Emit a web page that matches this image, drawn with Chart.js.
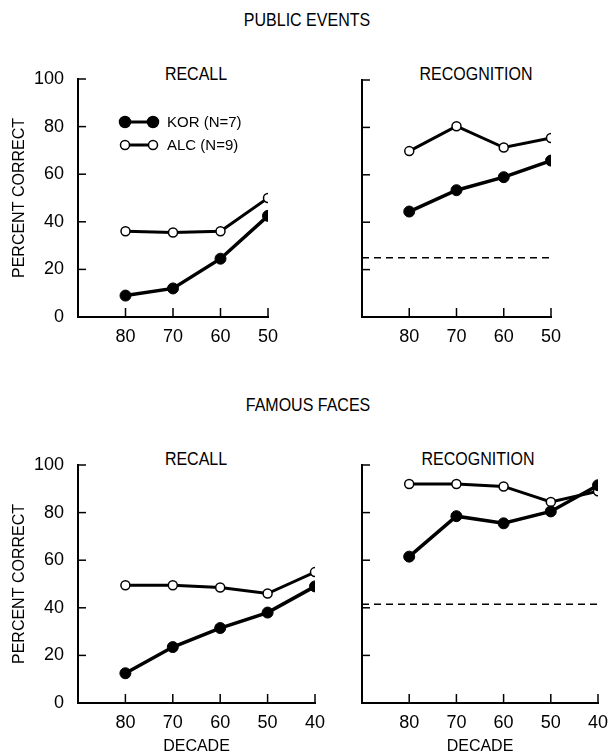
<!DOCTYPE html>
<html>
<head>
<meta charset="utf-8">
<script src="https://cdn.jsdelivr.net/npm/chart.js@4.4.1/dist/chart.umd.min.js"></script>
<style>
  html, body { margin: 0; padding: 0; background: #fff; overflow: hidden; }
  body { width: 613px; height: 755px; position: relative; font-family: "Liberation Sans", Arial, sans-serif; color: #000; }
  .box { position: absolute; }
  .lbl { position: absolute; font-size: 16px; line-height: 16px; white-space: nowrap; transform: translateX(-50%) scaleY(1.12); }
</style>
</head>
<body>
<div class="lbl" style="left:307px; top:12px;">PUBLIC EVENTS</div>
<div class="lbl" style="left:196px; top:66px;">RECALL</div>
<div class="lbl" style="left:476px; top:66px;">RECOGNITION</div>
<div class="lbl" style="left:308px; top:397px;">FAMOUS FACES</div>
<div class="lbl" style="left:196px; top:451px;">RECALL</div>
<div class="lbl" style="left:478px; top:451px;">RECOGNITION</div>

<div class="box" style="left:0px; top:60px;"><canvas id="eventsRecall" width="300" height="300"></canvas></div>
<div class="box" style="left:300px; top:60px;"><canvas id="eventsRecog" width="313" height="300"></canvas></div>
<div class="box" style="left:0px; top:440px;"><canvas id="facesRecall" width="330" height="315"></canvas></div>
<div class="box" style="left:330px; top:440px;"><canvas id="facesRecog" width="283" height="315"></canvas></div>

<script>
// decadas (eje x) y valores
const decadesEvents = [80, 70, 60, 50];
const decadesFaces = [80, 70, 60, 50, 40];
const yTicks = [0, 20, 40, 60, 80, 100];

const eventsRecallKor = [9, 12, 24.5, 42.5];
const eventsRecallAlc = [36, 35.5, 36, 50];
const eventsRecogKor = [44.5, 53.5, 59, 66];
const eventsRecogAlc = [70, 80.5, 71.5, 75.5];

const facesRecallKor = [12.5, 23.5, 31.5, 38, 49];
const facesRecallAlc = [49.5, 49.5, 48.5, 46, 55];
const facesRecogKor = [61.5, 78.5, 75.5, 80.5, 91.5];
const facesRecogAlc = [92, 92, 91, 84.5, 89];

const chanceEvents = 25;
const chanceFaces = 41.5;

const legendLabels = ['KOR (N=7)', 'ALC (N=9)'];

Chart.defaults.font.family = '"Liberation Sans", Arial, sans-serif';
Chart.defaults.color = '#000';

function toPoints(xs, ys) {
    return xs.map((x, i) => ({ x: x, y: ys[i] }));
}

// marcas de graduacion hacia adentro
const innerTicks = {
    id: 'innerTicks',
    afterDraw(chart) {
        const ctx = chart.ctx;
        const area = chart.chartArea;
        ctx.save();
        ctx.strokeStyle = '#000';
        ctx.lineWidth = 1.5;
        chart.scales.x.ticks.forEach(t => {
            const px = chart.scales.x.getPixelForValue(t.value);
            ctx.beginPath();
            ctx.moveTo(px, area.bottom);
            ctx.lineTo(px, area.bottom - 9);
            ctx.stroke();
        });
        chart.scales.y.ticks.forEach(t => {
            const py = chart.scales.y.getPixelForValue(t.value);
            ctx.beginPath();
            ctx.moveTo(area.left, py);
            ctx.lineTo(area.left + 8, py);
            ctx.stroke();
        });
        ctx.restore();
    }
};

// leyenda dentro del primer panel
const innerLegend = {
    id: 'innerLegend',
    afterDraw(chart, args, opts) {
        if (!opts.show) return;
        const ctx = chart.ctx;
        const area = chart.chartArea;
        const x0 = area.left + 47;
        const x1 = area.left + 75;
        const rows = [area.top + 43, area.top + 66];
        ctx.save();
        rows.forEach((y, i) => {
            ctx.strokeStyle = '#000';
            ctx.lineWidth = 3;
            ctx.beginPath();
            ctx.moveTo(x0, y);
            ctx.lineTo(x1, y);
            ctx.stroke();
            [x0, x1].forEach(x => {
                ctx.beginPath();
                ctx.arc(x, y, i === 0 ? 5.5 : 4.5, 0, Math.PI * 2);
                ctx.fillStyle = i === 0 ? '#000' : '#fff';
                ctx.fill();
                ctx.lineWidth = 1.5;
                ctx.stroke();
            });
            ctx.fillStyle = '#000';
            ctx.font = '15px "Liberation Sans", Arial, sans-serif';
            ctx.textBaseline = 'middle';
            ctx.textAlign = 'left';
            ctx.fillText(legendLabels[i], x1 + 14, y + 1);
        });
        ctx.restore();
    }
};

function makePanel(id, p) {
    const datasets = [];
    if (p.chance !== undefined) {
        datasets.push({
            data: toPoints([90, p.xMin], [p.chance, p.chance]),
            borderColor: '#000',
            borderWidth: 1.5,
            borderDash: [7, 5],
            pointRadius: 0
        });
    }
    datasets.push({
        label: legendLabels[0],
        data: toPoints(p.decades, p.kor),
        borderColor: '#000',
        borderWidth: 3.5,
        pointRadius: 5.5,
        pointBackgroundColor: '#000',
        pointBorderColor: '#000',
        pointBorderWidth: 1
    });
    datasets.push({
        label: legendLabels[1],
        data: toPoints(p.decades, p.alc),
        borderColor: '#000',
        borderWidth: 3,
        pointRadius: 4.5,
        pointBackgroundColor: '#fff',
        pointBorderColor: '#000',
        pointBorderWidth: 1.5
    });

    const ctx = document.getElementById(id).getContext('2d');
    new Chart(ctx, {
        type: 'line',
        data: { datasets: datasets },
        plugins: [innerTicks, innerLegend],
        options: {
            responsive: false,
            animation: false,
            devicePixelRatio: 1,
            layout: { padding: { top: p.padTop, right: p.padRight, left: 0, bottom: 0 } },
            plugins: {
                legend: { display: false },
                tooltip: { enabled: false },
                innerLegend: { show: !!p.legend }
            },
            scales: {
                x: {
                    type: 'linear',
                    reverse: true,
                    min: p.xMin,
                    max: 90,
                    grid: { display: false },
                    border: { display: true, color: '#000', width: 2 },
                    afterBuildTicks: s => { s.ticks = p.decades.map(v => ({ value: v })); },
                    afterFit: s => { s.height = p.xHeight; },
                    ticks: { padding: 1, font: { size: 18 }, maxRotation: 0 },
                    title: {
                        display: !!p.xTitle,
                        text: 'DECADE',
                        font: { size: 16, lineHeight: 1 },
                        padding: 0
                    }
                },
                y: {
                    min: 0,
                    max: 100,
                    grid: { display: false },
                    border: { display: true, color: '#000', width: 2 },
                    afterBuildTicks: s => { s.ticks = yTicks.map(v => ({ value: v })); },
                    afterFit: s => { s.width = p.yWidth; },
                    ticks: { display: p.yLabels, padding: 6, font: { size: 18 } },
                    title: {
                        display: p.yLabels,
                        text: 'PERCENT CORRECT',
                        font: { size: 16 },
                        padding: { top: 10, bottom: 0 }
                    }
                }
            }
        }
    });
}

makePanel('eventsRecall', {
    decades: decadesEvents, kor: eventsRecallKor, alc: eventsRecallAlc, xMin: 50,
    padTop: 19, padRight: 32, yWidth: 78, xHeight: 43, yLabels: true, legend: true
});
makePanel('eventsRecog', {
    decades: decadesEvents, kor: eventsRecogKor, alc: eventsRecogAlc, xMin: 50, chance: chanceEvents,
    padTop: 20, padRight: 62, yWidth: 62, xHeight: 43, yLabels: false
});
makePanel('facesRecall', {
    decades: decadesFaces, kor: facesRecallKor, alc: facesRecallAlc, xMin: 40,
    padTop: 25, padRight: 15, yWidth: 78, xHeight: 52, yLabels: true, xTitle: true
});
makePanel('facesRecog', {
    decades: decadesFaces, kor: facesRecogKor, alc: facesRecogAlc, xMin: 40, chance: chanceFaces,
    padTop: 25, padRight: 15, yWidth: 32, xHeight: 52, yLabels: false, xTitle: true
});
</script>
</body>
</html>
